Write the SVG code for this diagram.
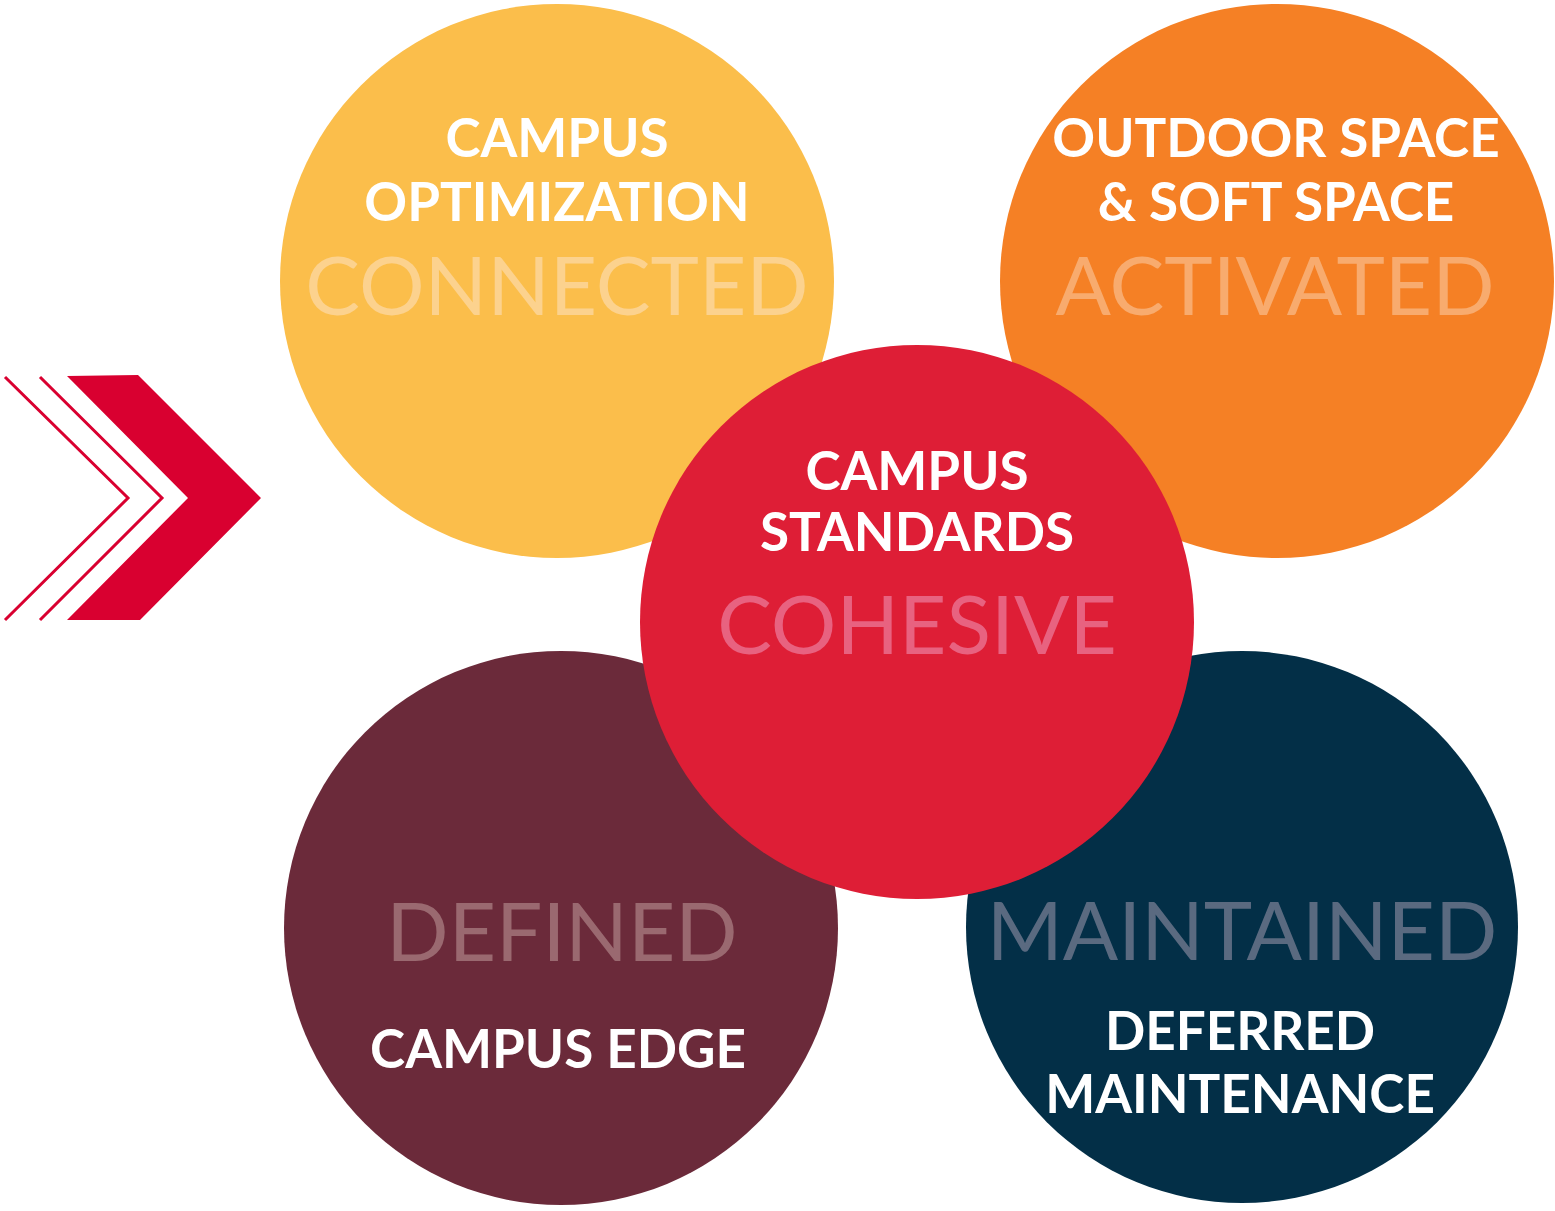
<svg xmlns="http://www.w3.org/2000/svg" width="1555" height="1211" viewBox="0 0 1555 1211">
<style>
.lbl{font-family:Lato,"Liberation Sans",sans-serif;font-weight:700;font-size:53px;fill:#fff;text-anchor:middle}
.big{font-family:Lato,"Liberation Sans",sans-serif;font-weight:400;font-size:82px;text-anchor:middle}
.chev{fill:none;stroke:#D90030;stroke-width:3}
</style>
<rect width="1555" height="1211" fill="#fff"/>
<g id="chevron">
<polygon points="67,376 138,375 261,498 140,620 67,620 188,498" fill="#D90030"/>
<polyline class="chev" points="5,377 128,498 5,620"/>
<polyline class="chev" points="40,377 162,498 40,620"/>
</g>
<g id="optimization">
<circle cx="557" cy="281" r="277" fill="#FBBE4B"/>
<text class="lbl" x="557" y="157">CAMPUS</text>
<text class="lbl" x="557" y="221">OPTIMIZATION</text>
<text class="big" x="557" y="315" fill="#FCD28E">CONNECTED</text>
</g>
<g id="outdoor">
<circle cx="1277" cy="281" r="277" fill="#F58025"/>
<text class="lbl" x="1276" y="157">OUTDOOR SPACE</text>
<text class="lbl" x="1276" y="221">&amp; SOFT SPACE</text>
<text class="big" x="1275" y="315" fill="#F8AB6E">ACTIVATED</text>
</g>
<g id="edge">
<circle cx="561" cy="928" r="277" fill="#6B2A3A"/>
<text class="big" x="562" y="961" fill="#9A6970">DEFINED</text>
<text class="lbl" x="558" y="1068">CAMPUS EDGE</text>
</g>
<g id="maintenance">
<circle cx="1242" cy="927" r="276" fill="#032F47"/>
<text class="big" x="1242" y="960" fill="#5A6A80">MAINTAINED</text>
<text class="lbl" x="1240" y="1050">DEFERRED</text>
<text class="lbl" x="1240" y="1113">MAINTENANCE</text>
</g>
<g id="standards">
<circle cx="917" cy="622" r="277" fill="#DE1E36"/>
<text class="lbl" x="917" y="490">CAMPUS</text>
<text class="lbl" x="917" y="551">STANDARDS</text>
<text class="big" x="917" y="654" fill="#E86280">COHESIVE</text>
</g>
<g id="connectors"/>
</svg>
